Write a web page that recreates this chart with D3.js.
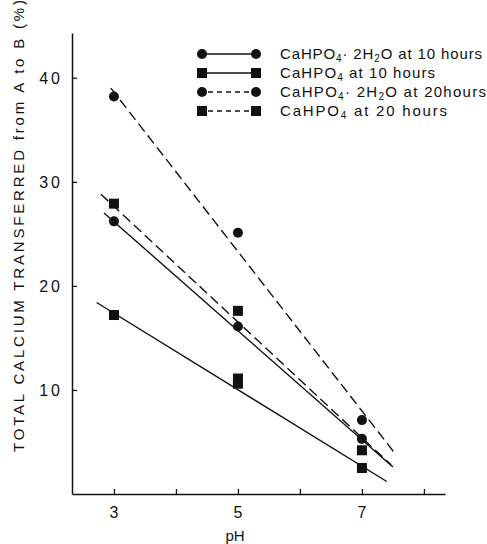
<!DOCTYPE html>
<html>
<head>
<meta charset="utf-8">
<script src="https://cdn.jsdelivr.net/npm/d3@7"></script>
<style>
  body { margin: 0; background: #fff; }
  svg text { font-family: "Liberation Sans", "DejaVu Sans", sans-serif; fill: #111; }
</style>
</head>
<body>
<script>
// measured points, % of total calcium moved from A to B
var phDihydrate10 = [3, 5, 7];
var dihydrate10   = [26.2, 16.1, 5.3];
var phAnhydrous10 = [3, 5, 5, 7];
var anhydrous10   = [17.2, 11.1, 10.6, 2.5];
var phDihydrate20 = [3, 5, 7];
var dihydrate20   = [38.2, 25.1, 7.1];
var phAnhydrous20 = [3, 5, 7];
var anhydrous20   = [27.9, 17.6, 4.2];

// fitted lines, [pH, %] at each end
var fitDihydrate10 = [[2.84, 27.0], [7.5, 2.6]];
var fitAnhydrous10 = [[2.72, 18.4], [7.4, 1.2]];
var fitDihydrate20 = [[2.95, 39.0], [7.52, 4.0]];
var fitAnhydrous20 = [[2.79, 28.8], [7.47, 2.8]];

var xTicks = [3, 4, 5, 6, 7, 8];
var xLabels = [3, 5, 7];
var yTicks = [10, 20, 30, 40];

var series = [
  {ph: phDihydrate10, val: dihydrate10, fit: fitDihydrate10, shape: "circle", dashed: false, hours: "10 hours", hyd: true},
  {ph: phAnhydrous10, val: anhydrous10, fit: fitAnhydrous10, shape: "square", dashed: false, hours: "10 hours", hyd: false},
  {ph: phDihydrate20, val: dihydrate20, fit: fitDihydrate20, shape: "circle", dashed: true, hours: "20hours", hyd: true},
  {ph: phAnhydrous20, val: anhydrous20, fit: fitAnhydrous20, shape: "square", dashed: true, hours: "20 hours", hyd: false}
];

var W = 487, H = 544;
var svg = d3.select("body").append("svg")
  .attr("width", W).attr("height", H);

var x = d3.scaleLinear().domain([2.323, 8.34]).range([72, 445]);
var y = d3.scaleLinear().domain([0, 44.3]).range([494, 33]);

// axes, ticks pointing inward
var xAxis = svg.append("g").attr("transform", "translate(0,494)")
  .call(d3.axisTop(x).tickValues(xTicks).tickSize(5).tickSizeOuter(0).tickFormat(""));
var yAxis = svg.append("g").attr("transform", "translate(72,0)")
  .call(d3.axisRight(y).tickValues(yTicks).tickSize(5).tickSizeOuter(0).tickFormat(""));
[xAxis, yAxis].forEach(function(a) {
  a.select(".domain").attr("stroke", "#111").attr("stroke-width", 1.5);
  a.selectAll(".tick line").attr("stroke", "#111").attr("stroke-width", 1.3);
});

svg.selectAll(".xl").data(xLabels).enter().append("text")
  .attr("x", function(d) { return x(d); })
  .attr("y", 518)
  .attr("text-anchor", "middle")
  .style("font-size", "16px")
  .text(function(d) { return d; });

svg.selectAll(".yl").data(yTicks).enter().append("text")
  .attr("x", 63)
  .attr("y", function(d) { return y(d) + 6; })
  .attr("text-anchor", "end")
  .style("font-size", "16px")
  .style("letter-spacing", "3px")
  .text(function(d) { return d; });

svg.append("text")
  .attr("x", 235).attr("y", 541)
  .attr("text-anchor", "middle")
  .style("font-size", "15px")
  .text("pH");

svg.append("text")
  .attr("transform", "translate(24,452) rotate(-90)")
  .attr("textLength", 452)
  .attr("lengthAdjust", "spacing")
  .style("font-size", "15px")
  .text("TOTAL CALCIUM TRANSFERRED from A to B (%)");

var line = d3.line()
  .x(function(d) { return x(d[0]); })
  .y(function(d) { return y(d[1]); });

function marker(g, shape, cx, cy) {
  if (shape === "circle") {
    g.append("circle").attr("cx", cx).attr("cy", cy).attr("r", 5).attr("fill", "#111");
  } else {
    g.append("rect").attr("x", cx - 5).attr("y", cy - 5)
      .attr("width", 10).attr("height", 10).attr("fill", "#111");
  }
}

var plot = svg.append("g");
series.forEach(function(s) {
  plot.append("path")
    .attr("d", line(s.fit))
    .attr("fill", "none")
    .attr("stroke", "#111")
    .attr("stroke-width", 1.4)
    .attr("stroke-dasharray", s.dashed ? "10,5" : null);
  s.ph.forEach(function(p, i) {
    marker(plot, s.shape, x(p), y(s.val[i]));
  });
});

// legend
var legend = svg.append("g");
var rowY = [54, 73, 92, 111];
var textW = [202, 155, 206, 167];
series.forEach(function(s, i) {
  var ly = rowY[i];
  legend.append("line")
    .attr("x1", 202).attr("x2", 256).attr("y1", ly).attr("y2", ly)
    .attr("stroke", "#111").attr("stroke-width", 1.4)
    .attr("stroke-dasharray", s.dashed ? "5,4" : null)
    .attr("stroke-dashoffset", s.dashed ? -6 : null);
  marker(legend, s.shape, 202, ly);
  marker(legend, s.shape, 256, ly);

  var t = legend.append("text")
    .attr("x", 280).attr("y", ly + 5)
    .attr("textLength", textW[i])
    .attr("lengthAdjust", "spacing")
    .style("font-size", "15px");
  t.append("tspan").text("CaHPO");
  t.append("tspan").attr("baseline-shift", "-25%").style("font-size", "10px").text("4");
  if (s.hyd) {
    t.append("tspan").text("\u00b7 2H");
    t.append("tspan").attr("baseline-shift", "-25%").style("font-size", "10px").text("2");
    t.append("tspan").text("O  at " + s.hours);
  } else {
    t.append("tspan").text(" at " + s.hours);
  }
});
</script>
</body>
</html>
